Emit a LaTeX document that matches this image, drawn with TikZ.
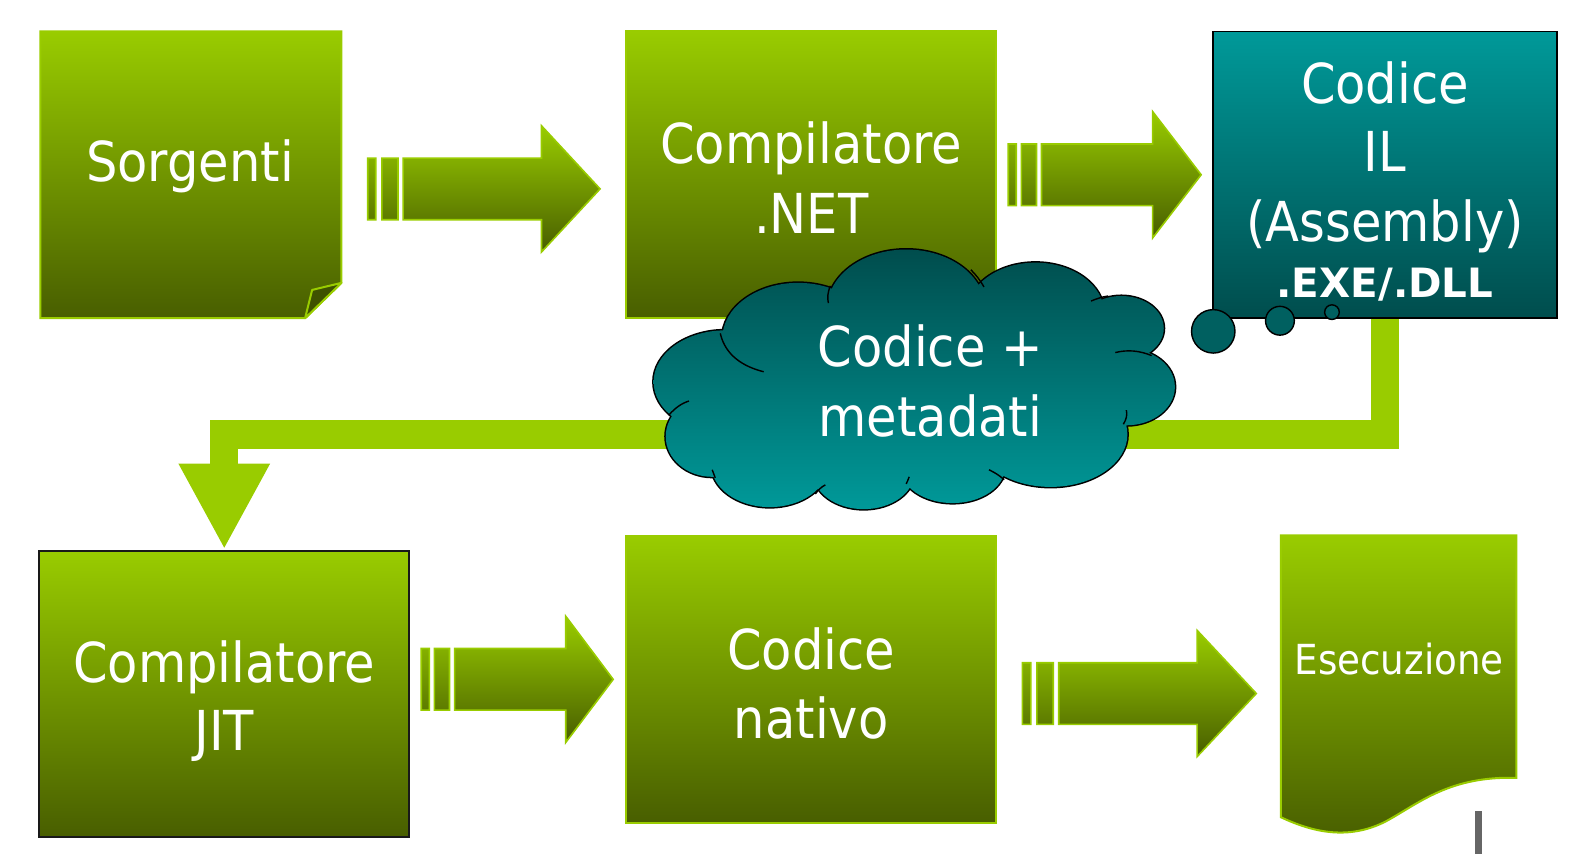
\documentclass[tikz,border=0pt]{standalone}
\usepackage{fontspec}
\setmainfont{DejaVu Sans Condensed}
\newfontfamily\widefont{DejaVu Sans}
\usetikzlibrary{arrows.meta}
\definecolor{lg}{RGB}{153,204,0}
\definecolor{dg}{RGB}{72,94,0}
\definecolor{foldc}{RGB}{62,82,0}
\definecolor{tl}{RGB}{0,153,153}
\definecolor{dt}{RGB}{0,77,77}
\definecolor{bub}{RGB}{0,96,96}
\definecolor{grayb}{RGB}{102,102,102}
\tikzset{
  gbox/.style={draw=lg, line width=2pt, top color=lg, bottom color=dg},
  jbox/.style={draw=black!90, line width=2pt, top color=lg, bottom color=dg},
  tbox/.style={draw=black, line width=1.6pt, top color=tl, bottom color=dt},
  barr/.style={draw=lg, line width=1.6pt, top color=lg, bottom color=dg},
  lbl/.style={text=white, anchor=base, inner sep=0pt, font=\fontsize{54.5}{60}\selectfont},
  slbl/.style={text=white, anchor=base, inner sep=0pt, font=\fontsize{41}{48}\selectfont},
  blbl/.style={text=white, anchor=base, inner sep=0pt, font=\widefont\bfseries\fontsize{40}{46}\selectfont},
  bubble/.style={circle, draw=black, line width=1.4pt, fill=bub, inner sep=0pt},
  curl/.style={draw=black, line width=1.4pt},
  cloudpath/.style={insert path={
    (897,305) ellipse [x radius=78, y radius=58]
    (1025,310) ellipse [x radius=68, y radius=50]
    (1110,325) ellipse [x radius=42, y radius=32]
    (1115,383) ellipse [x radius=48, y radius=38]
    (1040,430) ellipse [x radius=76, y radius=52]
    (943,462) ellipse [x radius=52, y radius=36]
    (855,468) ellipse [x radius=50, y radius=36]
    (762,460) ellipse [x radius=58, y radius=42]
    (705,432) ellipse [x radius=46, y radius=40]
    (718,378) ellipse [x radius=71, y radius=51]
    (790,335) ellipse [x radius=75, y radius=55]
    (905,385) ellipse [x radius=200, y radius=85]
  }},
}
% #1 bar1 left, #2 bar1 right, #3 bar2 left, #4 bar2 right, #5 body left, #6 head base, #7 tip, #8 centre y
\newcommand\stripearrow[8]{%
  \path[barr] (#1,#8-30.5) rectangle (#2,#8+30.5)
    (#3,#8-30.5) rectangle (#4,#8+30.5)
    (#5,#8-30.5) -- (#6,#8-30.5) -- (#6,#8-62.5) -- (#7,#8) -- (#6,#8+62.5)
    -- (#6,#8+30.5) -- (#5,#8+30.5) -- cycle;}
\begin{document}
\begin{tikzpicture}[x=1pt,y=-1pt]
\useasboundingbox (0,0) rectangle (1568,845);

% boxes
\path[gbox] (40,31) -- (338,31) -- (338,280) -- (302,315) -- (40,315) -- cycle;
\path[draw=lg, line width=2pt, fill=foldc, line join=round] (302,315) -- (309,287) -- (338,280) -- cycle;
\coordinate (sorg) at (189,173);
\node[gbox, minimum width=366pt, minimum height=284pt, inner sep=0pt] (net) at (803,173) {};
\node[tbox, minimum width=340pt, minimum height=284pt, inner sep=0pt] (il) at (1371,173) {};
\node[jbox, minimum width=366pt, minimum height=284pt, inner sep=0pt] (jit) at (222,687) {};
\node[gbox, minimum width=366pt, minimum height=284pt, inner sep=0pt] (nat) at (803,673) {};
\path[gbox] (1268,530) -- (1501,530) -- (1501,770)
  .. controls (1435,768) and (1405,795) .. (1372,813)
  .. controls (1335,832) and (1300,824) .. (1268,809) -- cycle;
\coordinate (ese) at (1385,650);

% striped arrows
\stripearrow{364}{372}{378}{394}{399}{536}{594}{187}
\stripearrow{998}{1006}{1011}{1026}{1031}{1141}{1189}{173}
\stripearrow{417}{425}{430}{445}{450}{560}{607}{672.5}
\stripearrow{1012}{1020.5}{1026.4}{1042.6}{1048}{1185}{1243.6}{686.5}

% connector IL -> JIT
\coordinate (bend) at (0,430);
\draw[lg, line width=28pt, line join=miter, -{Triangle[width=84pt,length=85pt]}]
  (il.south) -- (il.south |- bend) -- (jit.north |- bend) -- (jit.north);

% cloud
\path[draw=black, line width=3pt, cloudpath];
\path[top color=dt, bottom color=tl, cloudpath];
\draw[curl] (713,330) .. controls (718,352) and (736,363) .. (756,368);
\draw[curl] (822,283) .. controls (819,290) and (819,295) .. (820,300);
\draw[curl] (961,267) .. controls (966,272) and (970,277) .. (974,284);
\draw[curl] (1097,293) .. controls (1090,294) and (1085,296) .. (1080,298);
\draw[curl] (1104,349) .. controls (1116,346) and (1128,347) .. (1140,352);
\draw[curl] (1112,420) .. controls (1115,415) and (1116,411) .. (1115,406);
\draw[curl] (979,465) .. controls (985,468) and (990,471) .. (994,475);
\draw[curl] (900,472) .. controls (899,475) and (898,477) .. (897,479);
\draw[curl] (807,489) .. controls (810,485) and (813,482) .. (817,480);
\draw[curl] (705,465) .. controls (706,468) and (707,470) .. (708,473);
\draw[curl] (662,411) .. controls (668,404) and (675,399) .. (682,397);

% thought bubbles
\node[bubble, minimum size=43pt] (b1) at (1201,328) {};
\node[bubble, minimum size=28.5pt] (b2) at (1267,317.5) {};
\node[bubble, minimum size=14.5pt] (b3) at (1318.5,309) {};

% gray mark
\fill[grayb] (1460,803) rectangle (1467,845);

% labels
\node[lbl] (tsorg) at (188,180) {Sorgenti};
\node[lbl] (tnet1) at (803,162) {Compilatore};
\node[lbl] (tnet2) at (803,231) {.NET};
\node[lbl] (til1) at (1371,102) {Codice};
\node[lbl] (til2) at (1371,170) {IL};
\node[lbl] (til3) at (1371,239) {(Assembly)};
\node[blbl] (til4) at (1371,294) {.EXE/.DLL};
\node[lbl] (tcl1) at (921,363) {Codice +};
\node[lbl] (tcl2) at (921,432) {metadati};
\node[lbl] (tjit1) at (222,676) {Compilatore};
\node[lbl] (tjit2) at (222,743) {JIT};
\node[lbl] (tnat1) at (803,663) {Codice};
\node[lbl] (tnat2) at (803,731) {nativo};
\node[slbl] (tese) at (1385,668) {Esecuzione};
\end{tikzpicture}
\end{document}
